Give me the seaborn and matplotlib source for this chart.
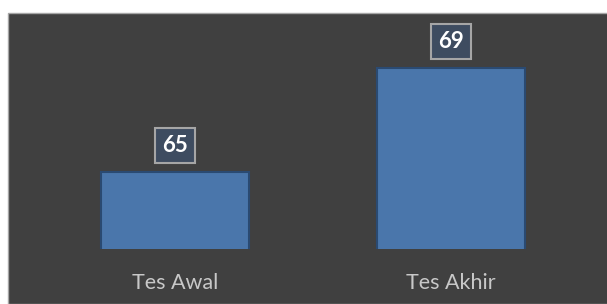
import matplotlib
matplotlib.use("Agg")
import matplotlib.pyplot as plt
import seaborn as sns
import pandas as pd
from matplotlib.patches import Rectangle

categories = ["Tes Awal", "Tes Akhir"]
values = [65, 69]

sns.set_theme(style="white")
plt.rcParams["font.family"] = ["Lato", "DejaVu Sans"]

W, H = 607, 304
fig = plt.figure(figsize=(W / 100, H / 100), dpi=100)
fig.patch.set_facecolor("white")

# dark chart area with light border
bg = Rectangle((8 / W, 0), 1.2, (H - 13) / H, transform=fig.transFigure,
               facecolor="#404040", edgecolor="#A6A6A6", linewidth=1.0, zorder=-5)
fig.add_artist(bg)

ax = fig.add_axes([37 / W, (H - 249) / H, 552 / W, 236 / H])
ax.set_facecolor("none")
ax.set_zorder(2)

df = pd.DataFrame({"cat": categories, "val": values})
sns.barplot(data=df, x="cat", y="val", ax=ax, color="#4A76AB", width=0.536,
            edgecolor="#2A4A72", linewidth=1.5, saturation=1)

ax.set_xlim(-0.5, 1.5)
ax.set_ylim(62.04, 71.12)
ax.set_xlabel("")
ax.set_ylabel("")
ax.set_yticks([])
for s in ax.spines.values():
    s.set_visible(False)
ax.tick_params(axis="x", length=0, pad=17, labelsize=15.5, labelcolor="#C8C8C8")

for i, v in enumerate(values):
    ax.annotate(f"{v}", xy=(i, v), xytext=(0, 11.5), textcoords="offset points",
                ha="center", va="bottom", fontsize=16, fontweight="bold", color="white",
                bbox=dict(boxstyle="square,pad=0.33", facecolor="#3E4C60",
                          edgecolor="#A6A6A6", linewidth=1.5))

fig.savefig("out.png", dpi=100)
